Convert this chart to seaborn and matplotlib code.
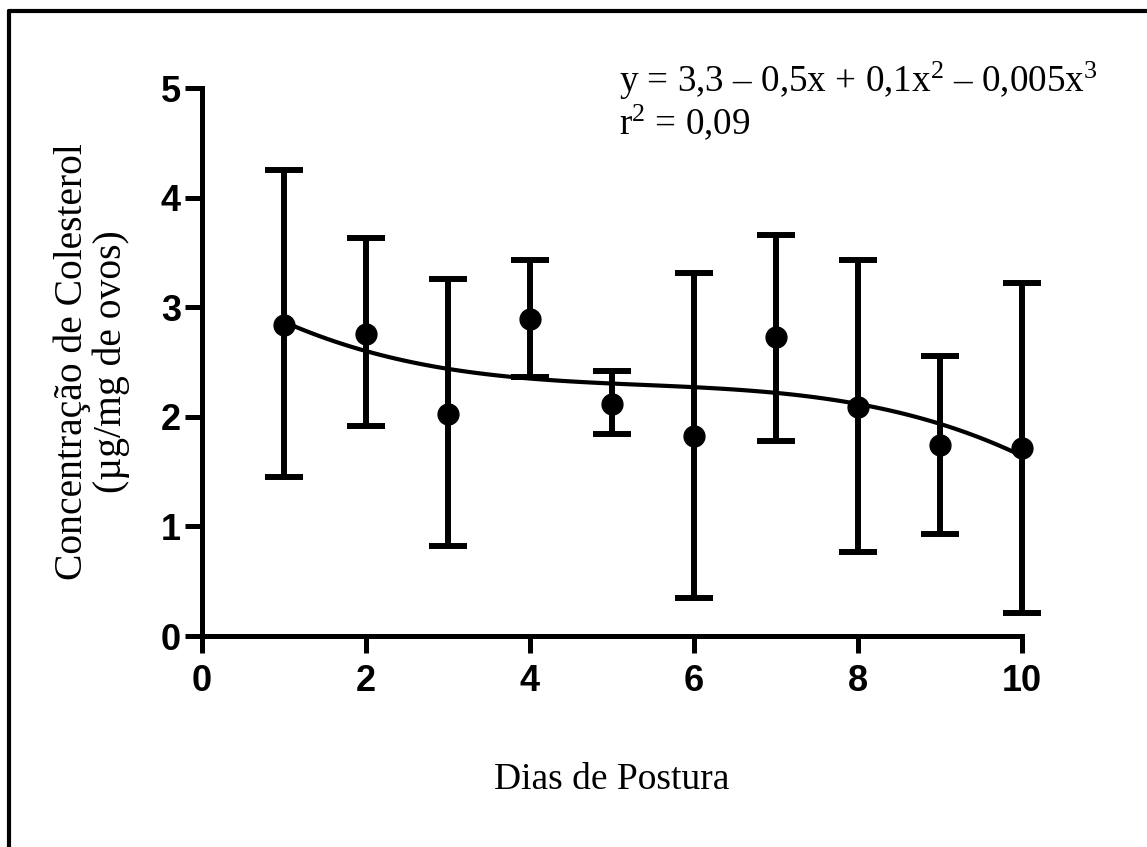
import numpy as np
import matplotlib
matplotlib.use('Agg')
import matplotlib.pyplot as plt
import seaborn as sns
from matplotlib.lines import Line2D

# dados
dias = [1, 2, 3, 4, 5, 6, 7, 8, 9, 10]
media = [2.84, 2.76, 2.03, 2.89, 2.12, 1.83, 2.73, 2.09, 1.74, 1.72]
sup = [4.25, 3.63, 3.26, 3.43, 2.42, 3.31, 3.66, 3.43, 2.56, 3.22]
inf = [1.45, 1.92, 0.82, 2.36, 1.84, 0.35, 1.78, 0.77, 0.93, 0.21]

eixo_x = [0, 2, 4, 6, 8, 10]
eixo_y = [0, 1, 2, 3, 4, 5]

sns.set_style('ticks')
plt.rcParams['font.family'] = ['Liberation Serif', 'DejaVu Serif']
plt.rcParams['mathtext.fontset'] = 'custom'
plt.rcParams['mathtext.rm'] = 'Liberation Serif'
plt.rcParams['mathtext.it'] = 'Liberation Serif:italic'
plt.rcParams['text.color'] = 'black'
plt.rcParams['axes.labelcolor'] = 'black'
plt.rcParams['xtick.color'] = 'black'
plt.rcParams['ytick.color'] = 'black'
plt.rcParams['axes.edgecolor'] = 'black'

fig = plt.figure(figsize=(11.47, 8.47), dpi=100)
ax = fig.add_axes([0.176, 0.249, 0.715, 0.647])

# curva de regressão polinomial (3ª ordem)
sns.regplot(x=np.array(dias), y=np.array(media), order=3, ci=None, scatter=False,
            color='black', line_kws={'lw': 3}, ax=ax)

err = [np.array(media) - np.array(inf), np.array(sup) - np.array(media)]
ax.errorbar(dias, media, yerr=err, fmt='o', color='black', ms=15,
            elinewidth=4.3, capsize=14, capthick=4.3, clip_on=False, zorder=5)

ax.set_xlim(0, 10)
ax.set_ylim(0, 5)
ax.set_xticks(eixo_x)
ax.set_yticks(eixo_y)
for s in ['top', 'right']:
    ax.spines[s].set_visible(False)
for s in ['left', 'bottom']:
    ax.spines[s].set_linewidth(3.6)
    ax.spines[s].set_color('black')
ax.tick_params(width=3.6, length=12, direction='out', colors='black')
ax.tick_params(axis='x', pad=8)
ax.tick_params(axis='y', pad=3)
for t in ax.get_xticklabels() + ax.get_yticklabels():
    t.set_family('Liberation Sans')
    t.set_fontweight('bold')
    t.set_fontsize(26)

ax.set_xlabel('Dias de Postura', fontsize=27, labelpad=46)
ax.set_ylabel('Concentração de Colesterol\n(µg/mg de ovos)', fontsize=28.5,
              labelpad=22, linespacing=1.05)

fig.text(0.54, 0.891, 'y = 3,3 – 0,5x + 0,1x$^2$ – 0,005x$^3$', fontsize=26.7)
fig.text(0.54, 0.842, 'r$^2$ = 0,09', fontsize=26.7)

# moldura (só esquerda e topo visíveis)
fig.add_artist(Line2D([0.008, 0.008], [0, 0.987], color='black', lw=3, transform=fig.transFigure))
fig.add_artist(Line2D([0.008, 1], [0.987, 0.987], color='black', lw=3, transform=fig.transFigure))

fig.savefig('out.png', dpi=100)
